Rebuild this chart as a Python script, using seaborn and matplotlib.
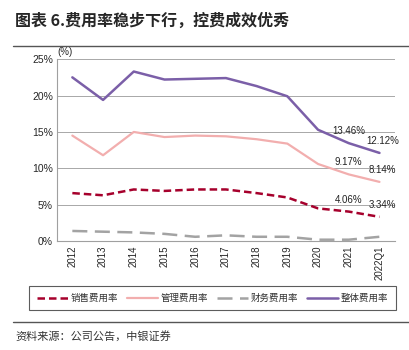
import matplotlib
matplotlib.use("Agg")
import matplotlib.pyplot as plt
import seaborn as sns
import pandas as pd
from matplotlib.lines import Line2D

years = ["2012", "2013", "2014", "2015", "2016", "2017", "2018", "2019", "2020", "2021", "2022Q1"]
sales = [6.6, 6.3, 7.1, 6.9, 7.1, 7.1, 6.6, 6.0, 4.5, 4.06, 3.34]
admin = [14.5, 11.8, 15.0, 14.3, 14.5, 14.4, 14.0, 13.4, 10.6, 9.17, 8.14]
finance = [1.4, 1.3, 1.2, 1.0, 0.6, 0.8, 0.6, 0.6, 0.2, 0.2, 0.6]
total = [22.5, 19.4, 23.3, 22.2, 22.3, 22.4, 21.3, 19.9, 15.3, 13.46, 12.12]
names = ["销售费用率", "管理费用率", "财务费用率", "整体费用率"]
labelled = {"整体费用率": total, "管理费用率": admin, "销售费用率": sales}

sns.set_theme(style="white")
plt.rcParams['font.family'] = ['Noto Sans CJK SC', 'DejaVu Sans']
plt.rcParams['axes.unicode_minus'] = False

fig = plt.figure(figsize=(4.1, 3.5), dpi=100)
ax = fig.add_axes([0.139, 0.311, 0.824, 0.52])

colors = {"销售费用率": "#A6002C", "管理费用率": "#F2AEAE", "财务费用率": "#A3A3A3", "整体费用率": "#7B5FA8"}
dashes = {"销售费用率": (3, 1.6), "管理费用率": None, "财务费用率": (6, 3), "整体费用率": None}
widths = {"销售费用率": 1.8, "管理费用率": 1.6, "财务费用率": 1.8, "整体费用率": 1.8}
series = {"销售费用率": sales, "管理费用率": admin, "财务费用率": finance, "整体费用率": total}

for n in names:
    df = pd.DataFrame({"year": years, "v": series[n]})
    sns.lineplot(data=df, x="year", y="v", ax=ax, color=colors[n], lw=widths[n], sort=False)
    ln = ax.lines[-1]
    if dashes[n]:
        ln.set_dashes(dashes[n])

ax.set_xlim(-0.5, 10.5)
ax.set_ylim(0, 25)
ax.set_yticks([0, 5, 10, 15, 20, 25])
ax.set_yticklabels([f"{t}%" for t in [0, 5, 10, 15, 20, 25]], fontsize=7.5, family=['Liberation Sans', 'DejaVu Sans'])
ax.set_xticks(range(len(years)))
ax.set_xticklabels(years, rotation=90, fontsize=7, family=['Liberation Sans', 'DejaVu Sans'])
ax.set_xlabel("")
ax.set_ylabel("")
ax.grid(axis="y", color="#A8A8A8", lw=0.7)
ax.set_axisbelow(True)
for s in ["top", "right"]:
    ax.spines[s].set_visible(False)
for s in ["left", "bottom"]:
    ax.spines[s].set_color("#A0A0A0")
    ax.spines[s].set_linewidth(0.8)
ax.tick_params(axis="x", length=0, pad=3)
ax.tick_params(axis="y", length=0, pad=3)
ax.set_xticks([0.5 + 2 * i - 1 for i in range(6)], minor=True)
ax.tick_params(axis="x", which="minor", length=4, color="#A0A0A0", width=0.8)

for n, vals in labelled.items():
    for i in (9, 10):
        ax.annotate(f"{vals[i]:.2f}%", (i, vals[i]), xytext=(2 if i == 10 else 0, 5),
                    textcoords="offset points", ha="center", va="bottom", fontsize=7,
                    family=['Liberation Sans', 'DejaVu Sans'], color="#222222")

ax.text(0.0, 1.01, "(%)", transform=ax.transAxes, fontsize=7, ha="left", va="bottom",
        family=['Liberation Sans', 'DejaVu Sans'])

handles = [Line2D([0], [0], color=colors[n], lw=widths[n],
                  dashes=dashes[n] if dashes[n] else (None, None)) for n in names]
for h, n in zip(handles, names):
    if dashes[n] is None:
        h.set_linestyle("-")
leg = fig.legend(handles, names, loc="center", bbox_to_anchor=(0.5185, 0.148),
                 ncol=4, fontsize=6.8, frameon=True, fancybox=False, edgecolor="#333333",
                 handlelength=3.3, handletextpad=0.3, columnspacing=0.9, borderpad=0.8)
leg.get_frame().set_linewidth(0.8)
for t in leg.get_texts():
    t.set_color("#333333")

fig.text(0.037, 0.940, "图表 6.费用率稳步下行，控费成效优秀", fontsize=11.5, fontweight="bold", ha="left", va="center")
fig.add_artist(Line2D([0.032, 1.0], [0.868, 0.868], color="#555555", lw=1.0, transform=fig.transFigure))
fig.add_artist(Line2D([0.032, 1.0], [0.080, 0.080], color="#555555", lw=1.0, transform=fig.transFigure))
fig.text(0.037, 0.040, "资料来源：公司公告，中银证券", fontsize=8, style="italic", ha="left", va="center", color="#333333")

fig.savefig("out.png", dpi=100)
